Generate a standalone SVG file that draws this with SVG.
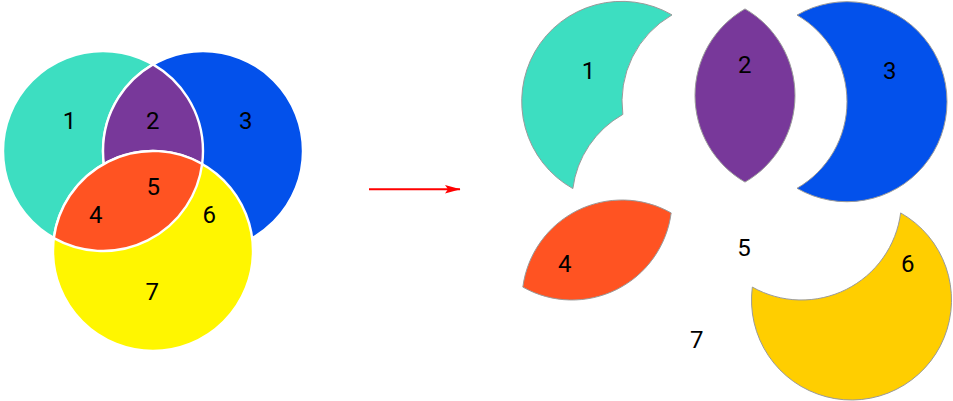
<svg xmlns="http://www.w3.org/2000/svg" width="953" height="401" viewBox="0 0 953 401">
  <style>
    .lbl { font-family: Roboto, "Liberation Sans", sans-serif; font-size: 24px; fill: #000; text-anchor: middle; }
    .venn { stroke: #ffffff; stroke-width: 2.4; }
    .piece { stroke: #9a9a9a; stroke-width: 1; }
    .teal { fill: #3DDEC1; }
    .blue { fill: #0351EB; }
    .purple { fill: #78389A; }
    .yellow { fill: #FFF600; }
    .orange { fill: #FF5322; }
    .gold { fill: #FFCE00; }
  </style>
  <defs>
    <path id="lensAB" d="M153,64.4 A100,100 0 0 1 153,237.6 A100,100 0 0 1 153,64.4 Z"/>
    <path id="lensAC" d="M53.84,238.08 A100,100 0 0 1 202.16,163.92 A100,100 0 0 1 53.84,238.08 Z"/>
    <marker id="arrowhead" markerUnits="userSpaceOnUse" markerWidth="18" markerHeight="12" refX="15" refY="5" orient="auto">
      <path d="M0,0.8 L15.5,5 L0,9.2 L3,5 Z" fill="#ff0000"/>
    </marker>
  </defs>

  <!-- Left: Venn diagram -->
  <g id="venn">
    <g id="circleA"><circle class="venn teal" cx="103" cy="151" r="100"/></g>
    <g id="circleB"><circle class="venn blue" cx="203" cy="151" r="100"/></g>
    <g id="lensAB-left"><use href="#lensAB" class="venn purple"/></g>
    <g id="circleC"><circle class="venn yellow" cx="153" cy="251" r="100"/></g>
    <g id="lensAC-left"><use href="#lensAC" class="venn orange"/></g>
    <g id="venn-labels">
      <text class="lbl" x="69.5" y="128.5">1</text>
      <text class="lbl" x="152.7" y="128.5">2</text>
      <text class="lbl" x="245.7" y="128.5">3</text>
      <text class="lbl" x="153.3" y="195">5</text>
      <text class="lbl" x="95.7" y="223.3">4</text>
      <text class="lbl" x="209.3" y="223.3">6</text>
      <text class="lbl" x="152.3" y="300">7</text>
    </g>
  </g>

  <!-- Connector -->
  <g id="connectors">
    <line x1="369" y1="189.3" x2="460" y2="189.3" stroke="#ff0000" stroke-width="2" marker-end="url(#arrowhead)"/>
  </g>

  <!-- Right: exploded pieces -->
  <g id="piece1" transform="translate(519,-49.5)">
    <path class="piece teal" d="M153,64.4 A100,100 0 1 0 53.84,238.08 A100,100 0 0 1 103.84,163.92 A100,100 0 0 1 153,64.4 Z"/>
    <text class="lbl" x="69.5" y="128.5">1</text>
  </g>
  <g id="piece2" transform="translate(592,-55.5)">
    <use href="#lensAB" class="piece purple"/>
    <text class="lbl" x="152.7" y="128.5">2</text>
  </g>
  <g id="piece3" transform="translate(644,-49.3)">
    <path class="piece blue" d="M153,64.4 A100,100 0 1 1 153,237.6 A100,100 0 0 0 153,64.4 Z"/>
    <text class="lbl" x="245.7" y="128.5">3</text>
  </g>
  <g id="piece4" transform="translate(469,49)">
    <use href="#lensAC" class="piece orange"/>
    <text class="lbl" x="95.7" y="223.3">4</text>
  </g>
  <g id="piece5">
    <text class="lbl" x="744" y="256">5</text>
  </g>
  <g id="piece6" transform="translate(698.5,49)">
    <path class="piece gold" d="M202.16,163.92 A100,100 0 1 1 53.84,238.08 A100,100 0 0 0 202.16,163.92 Z"/>
    <text class="lbl" x="209.3" y="223.3">6</text>
  </g>
  <g id="piece7">
    <text class="lbl" x="696.7" y="348.3">7</text>
  </g>
</svg>
